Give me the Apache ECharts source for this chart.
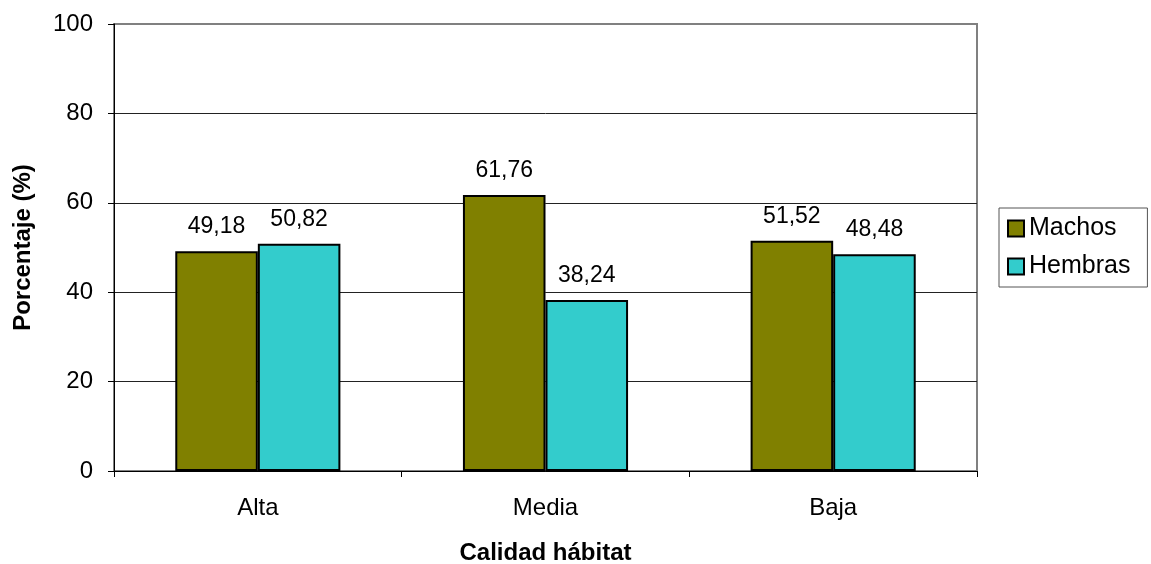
<!DOCTYPE html>
<html>
<head>
<meta charset="utf-8">
<script src="https://cdn.jsdelivr.net/npm/echarts@6/dist/echarts.min.js"></script>
<style>
  html, body { margin: 0; padding: 0; background: #fff; }
  #chart { width: 1151px; height: 564px; }
</style>
</head>
<body>
<div id="chart"></div>
<script>
// Habitat quality categories and sex ratio per category (%)
const categories = ['Alta', 'Media', 'Baja'];
const machos = [49.18, 61.76, 51.52];
const hembras = [50.82, 38.24, 48.48];
const yTicks = [0, 20, 40, 60, 80, 100];

const FONT = '"Liberation Sans", Arial, sans-serif';
const fmt = p => p.value.toFixed(2).replace('.', ',');

const chart = echarts.init(document.getElementById('chart'), null, { renderer: 'canvas' });

const labelStyle = {
  show: true,
  position: 'top',
  distance: 13,
  fontFamily: FONT,
  fontSize: 23,
  color: '#000',
  formatter: fmt
};

chart.setOption({
  animation: false,
  backgroundColor: '#fff',
  grid: {
    left: 114, right: 174, top: 24, bottom: 93,
    containLabel: false,
    outerBoundsMode: 'none',
    show: true,
    borderColor: '#808080',
    borderWidth: 2,
    backgroundColor: '#fff'
  },
  legend: {
    orient: 'vertical',
    left: 999,
    top: 208,
    padding: [8, 17, 8, 8],
    itemGap: 13,
    itemWidth: 16,
    itemHeight: 16,
    icon: 'rect',
    borderColor: '#555',
    borderWidth: 1,
    backgroundColor: '#fff',
    textStyle: { fontFamily: FONT, fontSize: 25, color: '#000' },
    itemStyle: { borderColor: '#000', borderWidth: 2 },
    data: ['Machos', 'Hembras']
  },
  xAxis: {
    type: 'category',
    data: categories,
    name: 'Calidad hábitat',
    nameLocation: 'middle',
    nameGap: 70,
    nameTextStyle: { fontFamily: FONT, fontSize: 24, fontWeight: 'bold', color: '#000' },
    axisLine: { lineStyle: { color: '#000', width: 1 } },
    axisTick: { show: true, length: 6, lineStyle: { color: '#000' } },
    axisLabel: { margin: 25, fontFamily: FONT, fontSize: 24, color: '#000' }
  },
  yAxis: {
    type: 'value',
    min: 0,
    max: 100,
    interval: 20,
    name: 'Porcentaje (%)',
    nameLocation: 'middle',
    nameGap: 79,
    nameTextStyle: { fontFamily: FONT, fontSize: 24, fontWeight: 'bold', color: '#000' },
    axisLine: { show: true, lineStyle: { color: '#000', width: 1 } },
    axisTick: { show: true, length: 6, lineStyle: { color: '#000' } },
    axisLabel: {
      margin: 21, fontFamily: FONT, fontSize: 24, color: '#000',
      formatter: v => (yTicks.indexOf(v) >= 0 ? String(v) : '')
    },
    splitLine: { show: true, showMaxLine: false, lineStyle: { color: '#222', width: 1 } }
  },
  series: [
    {
      name: 'Machos',
      type: 'bar',
      data: machos,
      barGap: '0%',
      barCategoryGap: '42.6%',
      itemStyle: { color: '#808000', borderColor: '#000', borderWidth: 2 },
      label: labelStyle
    },
    {
      name: 'Hembras',
      type: 'bar',
      data: hembras,
      itemStyle: { color: '#33CCCC', borderColor: '#000', borderWidth: 2 },
      label: labelStyle
    }
  ]
});
</script>
</body>
</html>
